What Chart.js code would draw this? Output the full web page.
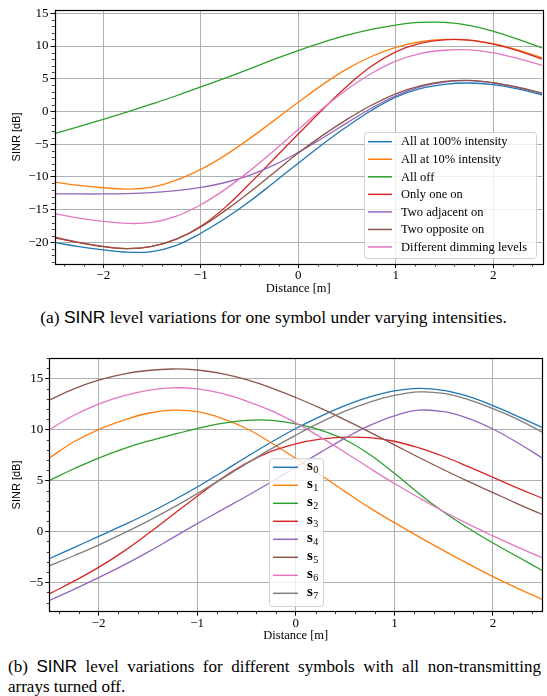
<!DOCTYPE html>
<html>
<head>
<meta charset="utf-8">
<script src="https://cdn.jsdelivr.net/npm/chart.js@4.4.1/dist/chart.umd.min.js"></script>
<style>
  body { margin: 0; background: #fff; width: 547px; height: 696px; position: relative; overflow: hidden; }
  canvas { position: absolute; left: 0; }
  #chartA { top: 0; }
  #chartB { top: 340px; }
  .cap { position: absolute; font-family: "Liberation Serif", serif; color: #000; line-height: 20px; }
  .sans { font-family: "Liberation Sans", sans-serif; }
  #capA { left: 0; width: 547px; top: 307px; font-size: 17.4px; text-align: center; white-space: nowrap; }
  #capB1 { left: 8px; width: 533px; top: 657px; font-size: 17px; text-align: justify; text-align-last: justify; }
  #capB2 { left: 8px; top: 677px; font-size: 17px; }
</style>
</head>
<body>
<canvas id="chartA" width="547" height="300"></canvas>
<div class="cap" id="capA">(a) <span class="sans">SINR</span> level variations for one symbol under varying intensities.</div>
<canvas id="chartB" width="547" height="310"></canvas>
<div class="cap" id="capB1">(b) <span class="sans">SINR</span> level variations for different symbols with all non-transmitting</div>
<div class="cap" id="capB2">arrays turned off.</div>
<script>
// receiver position along the track, metres
const distance = [-2.5, -2.25, -2.0, -1.75, -1.5, -1.25, -1.0, -0.75, -0.5, -0.25, 0,
                  0.25, 0.5, 0.75, 1.0, 1.25, 1.5, 1.75, 2.0, 2.25, 2.5];
const xTicks = [-2, -1, 0, 1, 2];

// (a) one symbol, different intensity settings of the other arrays [dB]
const allFull     = [-20.0, -20.65, -21.15, -21.5, -21.4, -20.45, -18.6, -16.35, -13.75, -10.85, -7.9,
                     -5.0, -2.3, 0.15, 2.2, 3.5, 4.15, 4.35, 4.1, 3.45, 2.55];
const allTenth    = [-10.8, -11.3, -11.65, -11.85, -11.55, -10.5, -8.85, -6.7, -4.15, -1.4, 1.4,
                     4.1, 6.5, 8.4, 9.8, 10.65, 11.0, 10.9, 10.35, 9.4, 8.2];
const allOff      = [-3.4, -2.3, -1.2, -0.05, 1.15, 2.4, 3.75, 5.1, 6.5, 7.95, 9.3,
                     10.55, 11.65, 12.55, 13.2, 13.6, 13.6, 13.15, 12.25, 11.05, 9.7];
const onlyOne     = [-19.3, -20.05, -20.65, -20.95, -20.6, -19.5, -17.55, -14.65, -11.05, -7.25, -3.45,
                     0.3, 3.85, 6.9, 9.1, 10.4, 10.95, 10.9, 10.3, 9.3, 8.0];
const twoAdjacent = [-12.6, -12.6, -12.6, -12.55, -12.4, -12.1, -11.6, -10.85, -9.75, -8.2, -6.25,
                     -4.05, -1.75, 0.5, 2.4, 3.75, 4.5, 4.7, 4.35, 3.65, 2.75];
const twoOpposite = [-19.2, -20.0, -20.6, -20.95, -20.6, -19.5, -17.65, -15.15, -12.35, -9.35, -6.35,
                     -3.65, -1.2, 0.95, 2.7, 3.9, 4.6, 4.75, 4.4, 3.7, 2.8];
const dimming     = [-15.6, -16.3, -16.8, -17.1, -16.95, -16.0, -14.25, -11.9, -9.1, -6.0, -2.75,
                     0.45, 3.35, 5.8, 7.7, 8.85, 9.35, 9.4, 8.95, 8.1, 7.05];
const namesA = ['All at 100% intensity', 'All at 10% intensity', 'All off', 'Only one on',
                'Two adjacent on', 'Two opposite on', 'Different dimming levels'];
const yTicksA = [-20, -15, -10, -5, 0, 5, 10, 15];

// (b) each transmitted symbol, non-transmitting arrays off [dB]
const s0 = [-2.7, -1.6, -0.5, 0.6, 1.75, 3.0, 4.35, 5.8, 7.3, 8.75, 10.1,
            11.3, 12.35, 13.2, 13.8, 14.05, 13.85, 13.25, 12.35, 11.3, 10.2];
const s1 = [7.2, 8.8, 10.0, 10.9, 11.6, 11.9, 11.75, 11.1, 10.1, 8.7, 7.15,
            5.55, 3.9, 2.3, 0.85, -0.55, -1.9, -3.2, -4.45, -5.6, -6.7];
const s2 = [5.0, 6.15, 7.2, 8.1, 8.85, 9.5, 10.1, 10.6, 10.9, 10.9, 10.55,
            9.95, 9.0, 7.55, 5.7, 3.7, 1.9, 0.3, -1.15, -2.5, -3.85];
const s3 = [-6.15, -4.9, -3.55, -2.0, -0.25, 1.6, 3.45, 5.2, 6.7, 7.85, 8.6,
            9.05, 9.25, 9.2, 8.85, 8.2, 7.35, 6.35, 5.3, 4.25, 3.25];
const s4 = [-6.8, -5.7, -4.55, -3.35, -2.05, -0.65, 0.75, 2.1, 3.45, 4.85, 6.3,
            7.75, 9.15, 10.4, 11.35, 11.9, 11.75, 11.1, 10.05, 8.7, 7.2];
const s5 = [12.9, 14.0, 14.85, 15.45, 15.8, 15.95, 15.85, 15.5, 14.9, 14.1, 13.15,
            12.1, 10.95, 9.75, 8.5, 7.25, 6.05, 4.9, 3.8, 2.7, 1.65];
const s6 = [10.0, 11.4, 12.5, 13.3, 13.85, 14.1, 14.0, 13.55, 12.8, 11.85, 10.65,
            9.25, 7.75, 6.2, 4.7, 3.3, 1.95, 0.7, -0.45, -1.55, -2.6];
const s7 = [-3.4, -2.4, -1.35, -0.2, 1.0, 2.3, 3.7, 5.15, 6.65, 8.1, 9.45,
            10.7, 11.8, 12.7, 13.35, 13.7, 13.55, 12.95, 12.05, 11.0, 9.75];
const symbolIdx = ['0', '1', '2', '3', '4', '5', '6', '7'];
const yTicksB = [-5, 0, 5, 10, 15];

const palette = ['#1f77b4', '#ff7f0e', '#2ca02c', '#d62728', '#9467bd', '#8c564b', '#e377c2', '#7f7f7f'];

const SERIF = '"Liberation Serif", serif';
const SANS = '"Liberation Sans", sans-serif';
Chart.defaults.font.family = SERIF;
Chart.defaults.color = '#000';

const fmt = v => String(v).replace('-', '\u2212');

// minor ticks + black frame round the plot area
const framePlugin = {
  id: 'frame',
  afterDatasetsDraw(chart) {
    const { ctx, chartArea: a, scales } = chart;
    ctx.save();
    ctx.strokeStyle = '#000';
    ctx.lineWidth = 0.8;
    ctx.beginPath();
    const ys = scales.y;
    for (let v = Math.ceil(ys.min); v <= ys.max; v++) {
      if (v % 5 === 0) continue;
      const py = Math.round(ys.getPixelForValue(v)) + 0.5;
      ctx.moveTo(a.left - 2.5, py); ctx.lineTo(a.left, py);
    }
    const xs = scales.x;
    for (let i = -12; i <= 12; i++) {
      if (i % 5 === 0) continue;
      const px = Math.round(xs.getPixelForValue(i / 5)) + 0.5;
      ctx.moveTo(px, a.bottom); ctx.lineTo(px, a.bottom + 2.5);
    }
    ctx.stroke();
    ctx.lineWidth = 1.2;
    ctx.strokeRect(Math.round(a.left) + 0.5, Math.round(a.top) + 0.5,
                   Math.round(a.right - a.left), Math.round(a.bottom - a.top));
    ctx.restore();
  }
};

// legend box drawn inside the axes
function legendPlugin(cfg) {
  return {
    id: 'boxLegend',
    afterDraw(chart) {
      const { ctx } = chart;
      ctx.save();
      ctx.fillStyle = 'rgba(255,255,255,0.8)';
      ctx.strokeStyle = '#d0d0d0';
      ctx.lineWidth = 1;
      ctx.beginPath();
      ctx.roundRect(cfg.x + 0.5, cfg.y + 0.5, cfg.w, cfg.h, 3);
      ctx.fill();
      ctx.stroke();
      chart.data.datasets.forEach((ds, i) => {
        const y = cfg.row0 + i * cfg.gap;
        ctx.strokeStyle = ds.borderColor;
        ctx.lineWidth = 1.5;
        ctx.beginPath();
        ctx.moveTo(cfg.lineX0, y); ctx.lineTo(cfg.lineX1, y);
        ctx.stroke();
        cfg.label(ctx, ds.label, cfg.textX, y);
      });
      ctx.restore();
    }
  };
}

function makeChart(id, series, names, opts) {
  const datasets = series.map((vals, i) => ({
    label: names[i],
    data: vals.map((v, k) => ({ x: distance[k], y: v })),
    borderColor: palette[i],
    borderWidth: 1.3,
    pointRadius: 0,
    tension: 0.4,
    fill: false,
    order: -i
  }));
  return new Chart(document.getElementById(id), {
    type: 'line',
    data: { datasets },
    options: {
      responsive: false,
      animation: false,
      layout: { padding: opts.padding },
      plugins: { legend: { display: false }, tooltip: { enabled: false } },
      scales: {
        x: {
          type: 'linear', min: -2.5, max: 2.5,
          afterBuildTicks: s => { s.ticks = xTicks.map(v => ({ value: v })); },
          afterFit: s => { s.height = opts.xHeight; },
          grid: { color: '#b0b0b0', lineWidth: 1, tickLength: 4, tickColor: '#000' },
          border: { display: false },
          ticks: { padding: 0, font: { size: 13 }, callback: fmt, maxRotation: 0 },
          title: { display: true, text: 'Distance [m]', font: { size: 12.5 },
                   padding: { top: 0, bottom: opts.xTitlePad } }
        },
        y: {
          type: 'linear', min: opts.yMin, max: opts.yMax,
          afterBuildTicks: s => { s.ticks = opts.yTicks.map(v => ({ value: v })); },
          afterFit: s => { s.width = opts.yWidth; },
          grid: { color: '#b0b0b0', lineWidth: 1, tickLength: 4, tickColor: '#000' },
          border: { display: false },
          ticks: { padding: 2, font: { size: 13 }, callback: fmt },
          title: { display: true, text: 'SINR [dB]', font: { family: SANS, size: 11 },
                   padding: { top: 10, bottom: 0 } }
        }
      }
    },
    plugins: [framePlugin, legendPlugin(opts.legend)]
  });
}

makeChart('chartA',
  [allFull, allTenth, allOff, onlyOne, twoAdjacent, twoOpposite, dimming], namesA, {
    padding: { left: 0, right: 5, top: 10, bottom: 0 },
    yMin: -23.3, yMax: 15.5, yTicks: yTicksA, yWidth: 54.5, xHeight: 36, xTitlePad: 3.5,
    legend: {
      x: 364, y: 132, w: 172, h: 126, row0: 141.7, gap: 17.55,
      lineX0: 368, lineX1: 392, textX: 401,
      label: (ctx, text, x, y) => {
        ctx.fillStyle = '#000';
        ctx.font = '12.5px ' + SERIF;
        ctx.textBaseline = 'middle';
        ctx.fillText(text, x, y + 0.5);
      }
    }
  });

makeChart('chartB', [s0, s1, s2, s3, s4, s5, s6, s7], symbolIdx, {
    padding: { left: 0, right: 4.7, top: 18.3, bottom: 0 },
    yMin: -7.9, yMax: 17.0, yTicks: yTicksB, yWidth: 49.3, xHeight: 38.3, xTitlePad: 6.5,
    legend: {
      x: 269, y: 118.3, w: 54, h: 147.7, row0: 127.3, gap: 18,
      lineX0: 273, lineX1: 298, textX: 307,
      label: (ctx, sub, x, y) => {
        ctx.fillStyle = '#000';
        ctx.textBaseline = 'alphabetic';
        ctx.font = 'bold 15px ' + SERIF;
        ctx.fillText('s', x, y + 3);
        const w = ctx.measureText('s').width;
        ctx.font = '10px ' + SERIF;
        ctx.fillText(sub, x + w + 0.5, y + 6);
      }
    }
  });
</script>
</body>
</html>
